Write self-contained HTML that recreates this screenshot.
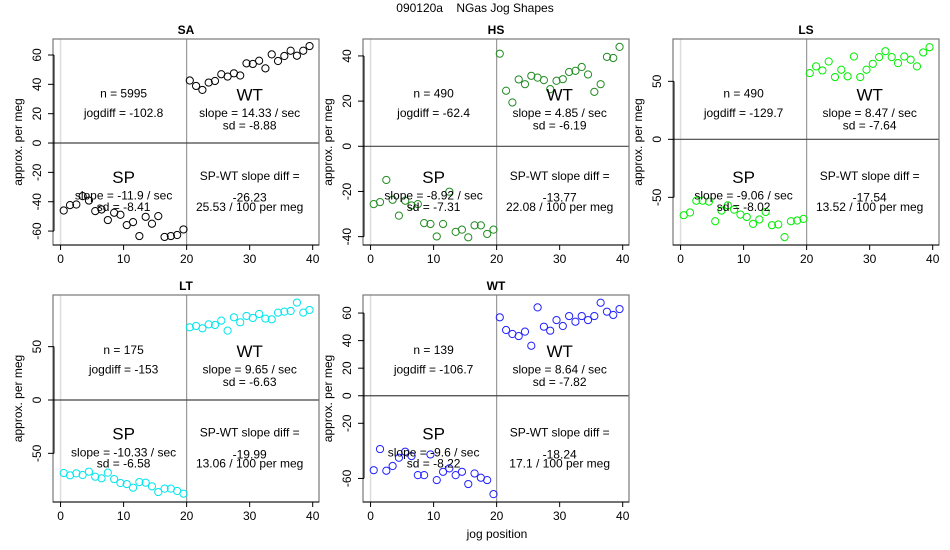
<!DOCTYPE html>
<html><head><meta charset="utf-8"><style>
body{margin:0;background:#fff;}
svg{display:block;font-family:"Liberation Sans",sans-serif;}
</style></head><body>
<svg id="chart" width="950" height="550">
<text x="475" y="12" text-anchor="middle" font-size="12" style="white-space:pre">090120a    NGas Jog Shapes</text>
<text x="497" y="538" text-anchor="middle" font-size="12">jog position</text>
</svg>
<script>
const jogPositions = [0.5,1.5,2.5,3.5,4.5,5.5,6.5,7.5,8.5,9.5,10.5,11.5,12.5,13.5,14.5,15.5,16.5,17.5,18.5,19.5,20.5,21.5,22.5,23.5,24.5,25.5,26.5,27.5,28.5,29.5,30.5,31.5,32.5,33.5,34.5,35.5,36.5,37.5,38.5,39.5];
const panelNames = ["SA","HS","LS","LT","WT"];
const saValues = [-46,-42.3,-41.9,-36.2,-39.2,-46.4,-45.3,-52.5,-47.5,-48.9,-55.9,-53.9,-63.4,-50.3,-55,-49.8,-64,-63.4,-62.7,-58.9,42.6,38.9,36.2,41.2,42.3,46.9,45.3,47.5,46,54.3,53.9,56.1,50.9,60.4,55.9,59.3,62.9,59.5,62.9,66.1];
const hsValues = [-25.6,-24.7,-14.9,-23.7,-30.7,-24.1,-26.2,-25.6,-34,-34.4,-39.9,-34.4,-20.1,-37.9,-36.9,-40.3,-35,-35,-38.8,-36.9,41,24.6,19.4,29.6,27.5,31.2,30.4,29.3,25.3,29,29.7,32.9,33.4,35.1,31.8,24.1,27.5,39.6,39.1,44];
const lsValues = [-65.4,-63.1,-52.9,-52.9,-53.7,-70.6,-61.4,-56.9,-60.6,-64.9,-66.9,-72.9,-69.1,-62.6,-74,-73.4,-84.3,-70.6,-70,-68.6,57.1,62.9,59.4,67.1,53.7,60,54.3,71.4,53.7,60,65.1,70.9,76,70.9,65.7,71.4,68.6,62.9,74.9,79.4];
const ltValues = [-68.4,-70.6,-68.8,-70.3,-67.2,-71.9,-73.4,-68.1,-74.1,-77.8,-78.8,-82.2,-76.9,-77.5,-80.9,-86.3,-83.1,-83.1,-85.3,-87.8,68.1,69.4,67.2,70.9,70.3,74.4,65,77.5,72.8,78.8,76.9,80.6,76.3,75.6,81.9,82.8,83.4,91.3,81.9,84.4];
const wtValues = [-54,-38.7,-54.4,-51,-45,-40.6,-43.8,-57.6,-57.6,-42.6,-61.2,-55.2,-52.7,-57.6,-55.2,-64.1,-56.4,-59.5,-61.2,-71.4,56.9,47.7,44.8,43.3,46.5,36.3,64.1,50.1,47.2,54.9,50.6,57.8,53.7,57.8,54.9,57.8,67.5,61,58.6,62.9];
const xTicks = [0,10,20,30,40];
const saYTicks = [-60,-40,-20,0,20,40,60];
const hsYTicks = [-40,-20,0,20,40];
const lsYTicks = [-50,0,50];
const ltYTicks = [-50,0,50];
const wtYTicks = [-60,-20,0,20,40,60];
const nLabels = ["n = 5995","n = 490","n = 490","n = 175","n = 139"];
const jogdiffLabels = ["jogdiff = -102.8","jogdiff = -62.4","jogdiff = -129.7","jogdiff = -153","jogdiff = -106.7"];
const wtSlopeLabels = ["slope = 14.33 / sec","slope = 4.85 / sec","slope = 8.47 / sec","slope = 9.65 / sec","slope = 8.64 / sec"];
const wtSdLabels = ["sd = -8.88","sd = -6.19","sd = -7.64","sd = -6.63","sd = -7.82"];
const spSlopeLabels = ["slope = -11.9 / sec","slope = -8.92 / sec","slope = -9.06 / sec","slope = -10.33 / sec","slope = -9.6 / sec"];
const spSdLabels = ["sd = -8.41","sd = -7.31","sd = -8.02","sd = -6.58","sd = -8.22"];
const diffLabels = ["-26.23","-13.77","-17.54","-19.99","-18.24"];
const perMegLabels = ["25.53 / 100 per meg","22.08 / 100 per meg","13.52 / 100 per meg","13.06 / 100 per meg","17.1 / 100 per meg"];

const NS="http://www.w3.org/2000/svg";
const svg=document.getElementById('chart');
const allValues=[saValues,hsValues,lsValues,ltValues,wtValues];
const allTicks=[saYTicks,hsYTicks,lsYTicks,ltYTicks,wtYTicks];
const colors=["#000","#228b22","#00ee00","#00e5ee","#2020ff"];
const boxes=[[53,39,266,206,[-69.5,70.9]],[363,39,266,206,[-43.7,47.5]],[673,39,266,206,[-91.1,86.5]],[53,295,266,207,[-95.6,98.4]],[363,295,266,207,[-77.1,73.1]]];
function mk(tag,attrs,parent){const e=document.createElementNS(NS,tag);for(const k in attrs)e.setAttribute(k,attrs[k]);(parent||svg).appendChild(e);return e;}
boxes.forEach((b,p)=>{
  const [L,T,W,H,yl]=b;
  const g=mk('g',{});
  
  
  const xs=v=>L+(v+1.2)/(42.2)*W;
  const ys=v=>T+H-(v-yl[0])/(yl[1]-yl[0])*H;
  const t=mk('text',{x:L+W/2,y:T-5,'text-anchor':'middle','font-size':12,'font-weight':'bold'},g);
  t.textContent=panelNames[p];
  
  
  mk('line',{x1:xs(0),x2:xs(0),y1:T,y2:T+H,stroke:'#ddd','stroke-width':1.5},g);
  const v20=mk('line',{x1:xs(20),x2:xs(20),y1:T,y2:T+H,stroke:'#999','stroke-width':1.2},g);
  
  
  const h0=mk('line',{x1:L,x2:L+W,y1:ys(0),y2:ys(0),stroke:'#444','stroke-width':1.2},g);
  
  
  const box=mk('rect',{x:L,y:T,width:W,height:H,fill:'none',stroke:'#777','stroke-width':1.2},g);
  
  
  const ya=mk('g',{},g);
  
  
  const yt=allTicks[p];
  mk('line',{x1:L+1,x2:L+1,y1:ys(yt[0]),y2:ys(yt[yt.length-1]),stroke:'#000'},ya);
  yt.forEach(v=>{
    mk('line',{x1:L+1,x2:L-5,y1:ys(v),y2:ys(v),stroke:'#000'},ya);
    const tx=mk('text',{x:0,y:0,'text-anchor':'middle','font-size':12,transform:`translate(${L-12},${ys(v)}) rotate(-90)`},ya);
    tx.textContent=v;
    
    
  });
  const yl2=mk('text',{x:0,y:0,'text-anchor':'middle','font-size':12,transform:`translate(${L-31},${T+H/2}) rotate(-90)`},g);
  yl2.textContent='approx. per meg';
  
  
  const xa=mk('g',{},g);
  
  
  mk('line',{x1:L,x2:L+W,y1:T+H,y2:T+H,stroke:'#000'},xa);
  xTicks.forEach(v=>{
    mk('line',{x1:xs(v),x2:xs(v),y1:T+H,y2:T+H+5,stroke:'#000'},xa);
    const tx=mk('text',{x:xs(v),y:T+H+18,'text-anchor':'middle','font-size':12},xa);
    tx.textContent=v;
    
    
  });
  allValues[p].forEach((v,i)=>{
    const c=mk('circle',{cx:xs(jogPositions[i]),cy:ys(v),r:3.6,fill:'none',stroke:colors[p],'stroke-width':1},g);
    
    
  });
  const xl=xs(10), xr=xs(30);
  const ann=[[xl,0.265,nLabels[p],12],[xl,0.36,jogdiffLabels[p],12],[xr,0.265,'WT',17],[xr,0.36,wtSlopeLabels[p],12],[xr,0.42,wtSdLabels[p],12],
    [xl,0.665,'SP',17],[xl,0.76,spSlopeLabels[p],12],[xl,0.815,spSdLabels[p],12],[xr,0.665,'SP-WT slope diff =',12],[xr,0.77,diffLabels[p],12],[xr,0.815,perMegLabels[p],12]];
  ann.forEach(a=>{
    const tx=mk('text',{x:a[0],y:T+a[1]*H+(a[3]>12?7:4),'text-anchor':'middle','font-size':a[3]},g);
    tx.textContent=a[2];
    
    
  });
});
</script>
</body></html>
